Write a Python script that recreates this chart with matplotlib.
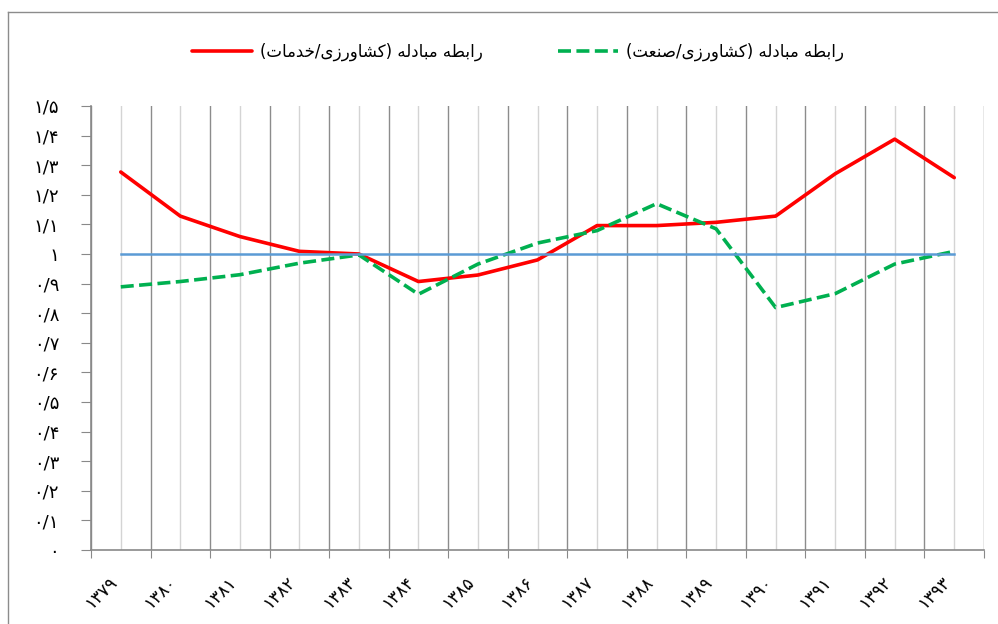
import matplotlib
matplotlib.use("Agg")
import matplotlib.pyplot as plt
from matplotlib.lines import Line2D

# ---- data ----
years = ["۱۳۷۹", "۱۳۸۰", "۱۳۸۱", "۱۳۸۲", "۱۳۸۳", "۱۳۸۴", "۱۳۸۵", "۱۳۸۶",
         "۱۳۸۷", "۱۳۸۸", "۱۳۸۹", "۱۳۹۰", "۱۳۹۱", "۱۳۹۲", "۱۳۹۳"]
agri_services = [1.277, 1.128, 1.059, 1.009, 1.000, 0.907, 0.929, 0.980,
                 1.096, 1.096, 1.107, 1.128, 1.271, 1.388, 1.258]
agri_industry = [0.889, 0.907, 0.930, 0.969, 0.997, 0.864, 0.966, 1.037,
                 1.079, 1.170, 1.085, 0.819, 0.866, 0.966, 1.009]
baseline = [1, 1, 1, 1, 1, 1, 1, 1, 1, 1, 1, 1, 1, 1, 1]
y_ticks = [0, 0.1, 0.2, 0.3, 0.4, 0.5, 0.6, 0.7, 0.8, 0.9, 1.0,
           1.1, 1.2, 1.3, 1.4, 1.5]
y_labels = ["۰", "۰/۱", "۰/۲", "۰/۳", "۰/۴", "۰/۵", "۰/۶", "۰/۷", "۰/۸",
            "۰/۹", "۱", "۱/۱", "۱/۲", "۱/۳", "۱/۴", "۱/۵"]
label_services = "رابطه مبادله (کشاورزی/خدمات)"
label_industry = "رابطه مبادله (کشاورزی/صنعت)"

# ---- minimal persian shaping (matplotlib has no complex text layout) ----
# letter: (isolated, final, initial, medial); None -> joins only to the right
FORMS = {
    "ا": (0xFE8D, 0xFE8E, None, None),
    "ب": (0xFE8F, 0xFE90, 0xFE91, 0xFE92),
    "ت": (0xFE95, 0xFE96, 0xFE97, 0xFE98),
    "خ": (0xFEA5, 0xFEA6, 0xFEA7, 0xFEA8),
    "د": (0xFEA9, 0xFEAA, None, None),
    "ر": (0xFEAD, 0xFEAE, None, None),
    "ز": (0xFEAF, 0xFEB0, None, None),
    "ش": (0xFEB5, 0xFEB6, 0xFEB7, 0xFEB8),
    "ص": (0xFEB9, 0xFEBA, 0xFEBB, 0xFEBC),
    "ط": (0xFEC1, 0xFEC2, 0xFEC3, 0xFEC4),
    "ع": (0xFEC9, 0xFECA, 0xFECB, 0xFECC),
    "ل": (0xFEDD, 0xFEDE, 0xFEDF, 0xFEE0),
    "م": (0xFEE1, 0xFEE2, 0xFEE3, 0xFEE4),
    "ن": (0xFEE5, 0xFEE6, 0xFEE7, 0xFEE8),
    "ه": (0xFEE9, 0xFEEA, 0xFEEB, 0xFEEC),
    "و": (0xFEED, 0xFEEE, None, None),
    "ک": (0xFB8E, 0xFB8F, 0xFB90, 0xFB91),
    "ی": (0xFBFC, 0xFBFD, 0xFBFE, 0xFBFF),
}
MIRROR = {"(": ")", ")": "("}


def shape(text):
    out = []
    for i, ch in enumerate(text):
        if ch not in FORMS:
            out.append(MIRROR.get(ch, ch))
            continue
        prev = text[i - 1] if i > 0 else ""
        nxt = text[i + 1] if i + 1 < len(text) else ""
        joins_prev = prev in FORMS and FORMS[prev][2] is not None
        joins_next = nxt in FORMS and FORMS[ch][2] is not None
        f = FORMS[ch]
        if joins_prev and joins_next:
            code = f[3]
        elif joins_prev:
            code = f[1]
        elif joins_next:
            code = f[2]
        else:
            code = f[0]
        out.append(chr(code))
    return "".join(reversed(out))


plt.rcParams["font.family"] = ["DejaVu Sans"]

fig = plt.figure(figsize=(9.98, 6.24), dpi=100)
ax = fig.add_axes([91 / 998, 1 - 550 / 624, (984 - 91) / 998, (550 - 106) / 624])

x = list(range(len(years)))
ax.plot(x, agri_services, color="#FF0000", lw=2.6, solid_capstyle="round",
        solid_joinstyle="round", zorder=3, label=shape(label_services))
ax.plot(x, agri_industry, color="#00B050", lw=2.6, linestyle=(0, (3.6, 1.5)),
        zorder=4, label=shape(label_industry))
ax.plot(x, baseline, color="#5B9BD5", lw=1.8, zorder=5)

ax.set_xlim(-0.5, len(years) - 0.5)
ax.set_ylim(0, 1.5)

# boundaries -> major ticks & dark grid, centers -> labels & light grid
ax.set_xticks([i - 0.5 for i in range(len(years) + 1)])
ax.set_xticklabels([])
ax.set_xticks(x, years, minor=True)
ax.tick_params(axis="x", which="major", length=6, color="#898989", direction="out")
ax.tick_params(axis="x", which="minor", length=0, pad=16, labelsize=12.5)
for lab in ax.get_xticklabels(minor=True):
    lab.set_rotation(45)
    lab.set_ha("right")
    lab.set_va("top")
ax.grid(True, axis="x", which="major", color="#8C8C8C", lw=1)
ax.grid(True, axis="x", which="minor", color="#D4D4D4", lw=1)
ax.set_axisbelow(True)

ax.set_yticks(y_ticks, y_labels)
ax.tick_params(axis="y", length=7, color="#898989", pad=16, labelsize=13)

for s in ["top", "right"]:
    ax.spines[s].set_visible(False)
for s in ["left", "bottom"]:
    ax.spines[s].set_color("#898989")
    ax.spines[s].set_linewidth(1.2)

fig.legend(loc="center", bbox_to_anchor=(0.519, 1 - 52 / 624), ncol=2,
           frameon=False, fontsize=12, handlelength=3.6, handletextpad=0.5,
           columnspacing=4.5)

# chart-area border (only top/left visible in the crop)
fig.add_artist(Line2D([8 / 998, 8 / 998], [0, 1 - 12 / 624],
                      transform=fig.transFigure, color="#8C8C8C", lw=1))
fig.add_artist(Line2D([8 / 998, 1], [1 - 12 / 624, 1 - 12 / 624],
                      transform=fig.transFigure, color="#8C8C8C", lw=1))

fig.savefig("out.png", dpi=100)
